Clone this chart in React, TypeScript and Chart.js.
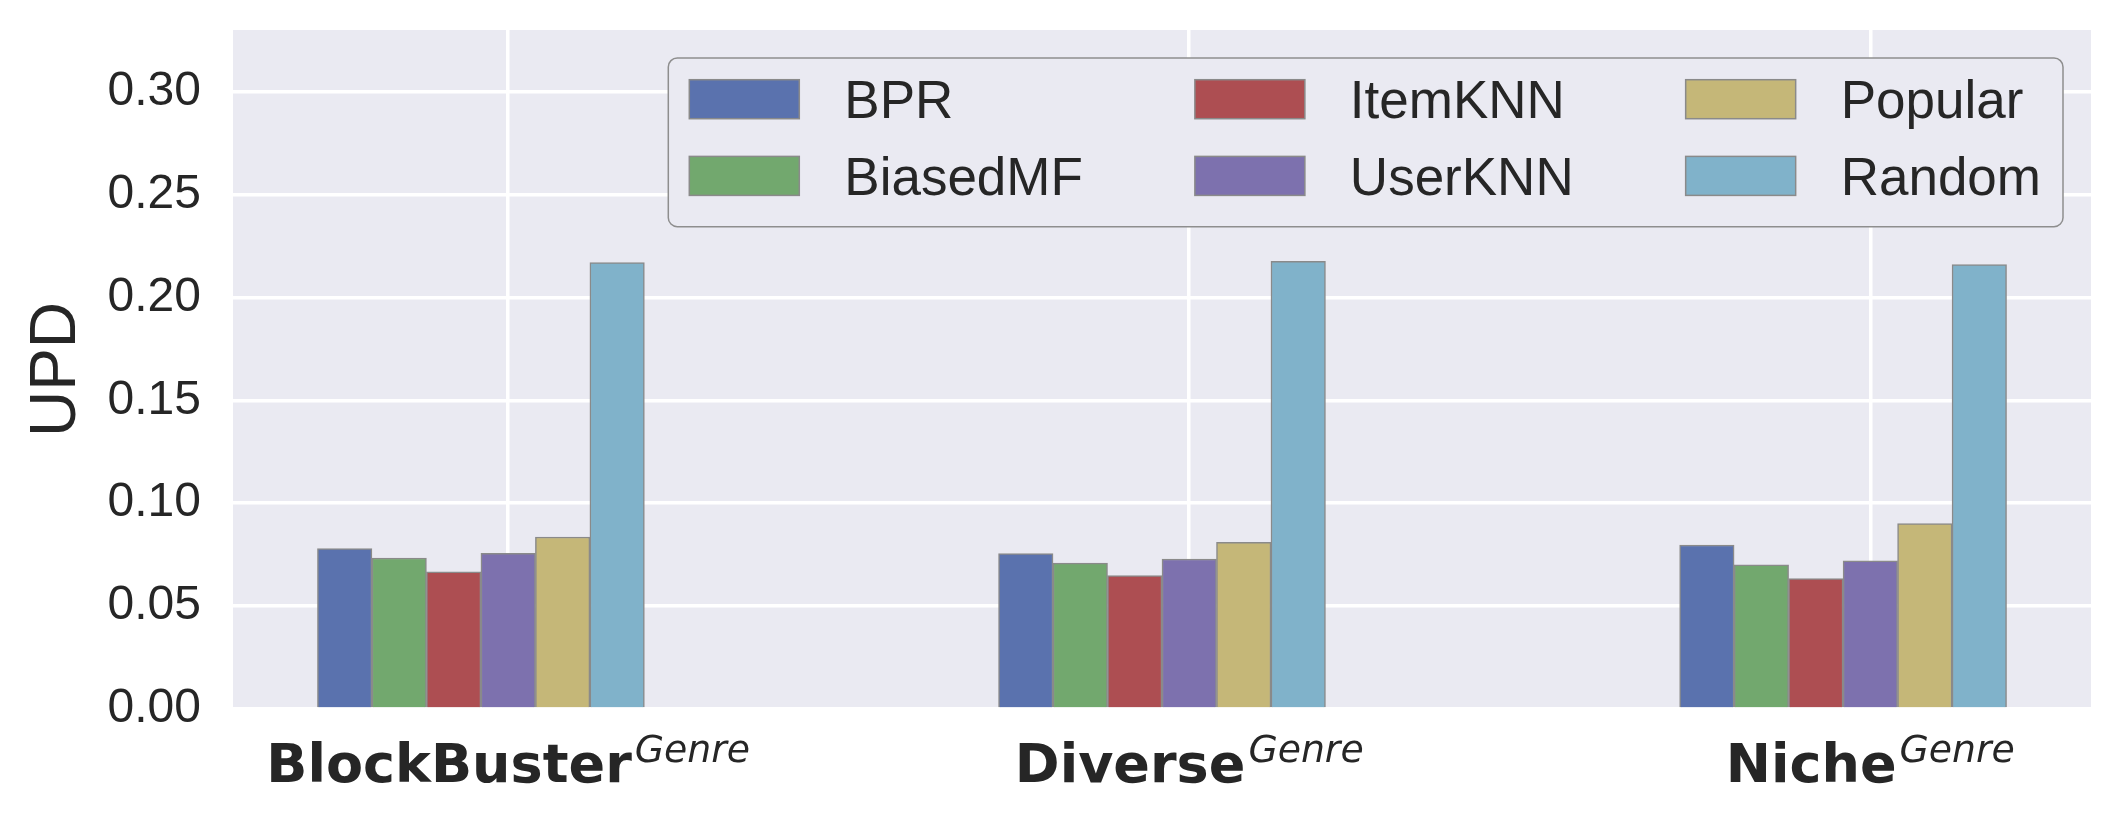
import React, { useEffect, useRef } from "react";
import { Chart, registerables } from "chart.js";

Chart.register(...registerables);

// ---- data ----
const categories = ["BlockBuster", "Diverse", "Niche"];
const categorySuperscript = "Genre";
const seriesNames = ["BPR", "BiasedMF", "ItemKNN", "UserKNN", "Popular", "Random"];
const bprValues = [0.078, 0.0755, 0.0797];
const biasedMFValues = [0.0734, 0.0709, 0.0701];
const itemKNNValues = [0.0667, 0.0649, 0.0634];
const userKNNValues = [0.0756, 0.0729, 0.072];
const popularValues = [0.0836, 0.081, 0.0901];
const randomValues = [0.217, 0.2176, 0.216];
const yTickValues = [0, 0.05, 0.1, 0.15, 0.2, 0.25, 0.3];
const yMax = 0.33;
const seriesColors = ["#5A72AE", "#72A86E", "#AD4E52", "#7D71AE", "#C5B778", "#80B2CA"];

const seriesValues = [bprValues, biasedMFValues, itemKNNValues, userKNNValues, popularValues, randomValues];

// bar layout (in x-axis units): bars at i + (k - 3) * w, like matplotlib's grouped bars
const BAR_W = 0.08;
const barLo = -3.5 * BAR_W;
const barHi = categories.length - 1 + 2.5 * BAR_W;
const xPad = 0.05 * (barHi - barLo);
const xMin = barLo - xPad;
const xMax = barHi + xPad;

const TEXT = "#262626";
const SANS = '"Liberation Sans", Arial, sans-serif';

const bgPlugin = {
  id: "axesBg",
  beforeDraw(chart: any) {
    const { ctx, chartArea: a } = chart;
    ctx.save();
    ctx.fillStyle = "#EAEAF2";
    ctx.fillRect(a.left, a.top, a.right - a.left, a.bottom - a.top);
    ctx.restore();
  },
};

const xLabelPlugin = {
  id: "xLabels",
  afterDraw(chart: any) {
    const { ctx, chartArea: a } = chart;
    const xs = chart.scales.x;
    const boldFont = 'bold 54px "DejaVu Sans", sans-serif';
    const supFont = 'italic 37.8px "DejaVu Sans", sans-serif';
    ctx.save();
    ctx.fillStyle = TEXT;
    ctx.textAlign = "left";
    ctx.textBaseline = "alphabetic";
    categories.forEach((c, i) => {
      const px = xs.getPixelForValue(i);
      ctx.font = boldFont;
      const w1 = ctx.measureText(c).width;
      ctx.font = supFont;
      const w2 = ctx.measureText(categorySuperscript).width;
      const gap = 3;
      const x0 = px - (w1 + gap + w2) / 2;
      const base = a.bottom + 73;
      ctx.font = boldFont;
      ctx.fillText(c, x0, base);
      ctx.font = supFont;
      ctx.fillText(categorySuperscript, x0 + w1 + gap, base - 20.5);
    });
    ctx.restore();
  },
};

const legendPlugin = {
  id: "boxLegend",
  afterDraw(chart: any) {
    const { ctx, chartArea: a } = chart;
    const datasets = chart.data.datasets;
    const rows = 2;
    const cols = Math.ceil(datasets.length / rows);
    const swW = 110, swH = 39, padL = 21, padR = 22, gapText = 45, colGap = 112;
    const rowPitch = 76.7, padT = 21.7, boxH = 168.7, fontSize = 53;
    ctx.save();
    ctx.font = `${fontSize}px ${SANS}`;
    const colW: number[] = [];
    for (let c = 0; c < cols; c++) {
      let m = 0;
      for (let r = 0; r < rows; r++) {
        const d = datasets[c * rows + r];
        if (d) m = Math.max(m, ctx.measureText(d.label).width);
      }
      colW.push(m);
    }
    const boxW = padL + padR + colW.reduce((s, w) => s + swW + gapText + w, 0) + (cols - 1) * colGap;
    const right = a.right - 28;
    const top = a.top + 28;
    const left = right - boxW;
    ctx.beginPath();
    ctx.roundRect(left, top, boxW, boxH, 9);
    ctx.fillStyle = "#EAEAF2";
    ctx.fill();
    ctx.lineWidth = 1.5;
    ctx.strokeStyle = "#8E8E8E";
    ctx.stroke();
    let cx = left + padL;
    for (let c = 0; c < cols; c++) {
      for (let r = 0; r < rows; r++) {
        const d = datasets[c * rows + r];
        if (!d) continue;
        const sy = top + padT + r * rowPitch;
        ctx.fillStyle = d.backgroundColor;
        ctx.fillRect(cx, sy, swW, swH);
        ctx.lineWidth = 1.5;
        ctx.strokeStyle = "#8A8A8A";
        ctx.strokeRect(cx, sy, swW, swH);
        ctx.fillStyle = TEXT;
        ctx.textAlign = "left";
        ctx.textBaseline = "alphabetic";
        ctx.fillText(d.label, cx + swW + gapText, sy + swH / 2 + 0.358 * fontSize);
      }
      cx += swW + gapText + colW[c] + colGap;
    }
    ctx.restore();
  },
};

export default function App() {
  const ref = useRef<HTMLCanvasElement>(null);
  useEffect(() => {
    const datasets = seriesNames.map((name, k) => ({
      label: name,
      data: seriesValues[k].map((v, i) => ({ x: i + (k - 3) * BAR_W, y: v })),
      backgroundColor: seriesColors[k],
      borderColor: "#8A8A8A",
      borderWidth: 1.5,
      grouped: false,
      categoryPercentage: 1,
      barPercentage: 1,
    }));
    const chart = new Chart(ref.current as HTMLCanvasElement, {
      type: "bar",
      data: { datasets } as any,
      options: {
        animation: false,
        responsive: false,
        devicePixelRatio: 1,
        layout: { padding: { top: 30, right: 34, left: 0, bottom: 0 } },
        plugins: { legend: { display: false }, tooltip: { enabled: false } },
        scales: {
          x: {
            type: "linear",
            min: xMin,
            max: xMax,
            offset: false,
            afterBuildTicks: (s: any) => {
              s.ticks = categories.map((_, i) => ({ value: i }));
            },
            afterFit: (s: any) => {
              s.height = 116;
              s.paddingLeft = 0;
              s.paddingRight = 0;
            },
            ticks: { display: false },
            grid: { color: "#FFFFFF", lineWidth: 3.5, drawTicks: false, offset: false },
            border: { display: false },
          },
          y: {
            type: "linear",
            min: 0,
            max: yMax,
            afterBuildTicks: (s: any) => {
              s.ticks = yTickValues.map((v) => ({ value: v }));
            },
            afterFit: (s: any) => {
              s.width = 233;
              s.paddingTop = 0;
              s.paddingBottom = 0;
            },
            ticks: {
              color: TEXT,
              padding: 32,
              font: { family: SANS, size: 48 },
              callback: (v: any) => Number(v).toFixed(2),
            },
            grid: { color: "#FFFFFF", lineWidth: 3.5, drawTicks: false },
            border: { display: false },
            title: {
              display: true,
              text: "UPD",
              color: TEXT,
              font: { family: SANS, size: 64 },
              padding: { top: 19, bottom: 0 },
            },
          },
        },
      } as any,
      plugins: [bgPlugin, xLabelPlugin, legendPlugin],
    });
    return () => chart.destroy();
  }, []);
  return (
    <div style={{ position: "fixed", left: 0, top: 0, width: 2125, height: 825, background: "#FFFFFF" }}>
      <canvas ref={ref} width={2125} height={825} />
    </div>
  );
}
